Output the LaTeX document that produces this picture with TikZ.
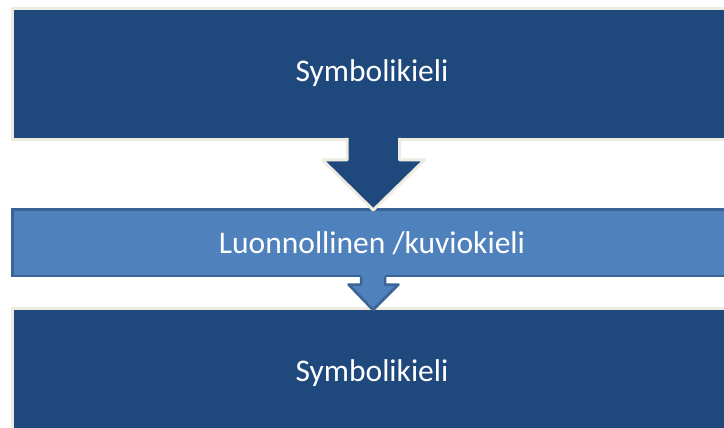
\documentclass[tikz,border=0pt]{standalone}
\usepackage{fontspec}
\setmainfont{Carlito}
\definecolor{darkblue}{HTML}{1F497D}
\definecolor{midblue}{HTML}{4F81BD}
\definecolor{midborder}{HTML}{3A6496}
\definecolor{beige}{HTML}{EEECE1}
\begin{document}
\begin{tikzpicture}[x=1pt,y=-1pt,
  darkbox/.style={rectangle,draw=beige,line width=3pt,fill=darkblue,inner sep=0pt,minimum width=760pt},
  midbox/.style={rectangle,draw=midborder,line width=2.5pt,fill=midblue,inner sep=0pt,minimum width=760pt},
  lbl/.style={text=white,font=\fontsize{31.5}{38}\selectfont,inner sep=0pt},
  darkarrow/.style={draw=beige,line width=3pt,line join=round},
  midarrow/.style={draw=midborder,line width=2.5pt,line join=round}]
\useasboundingbox (0,0) rectangle (724,428);
\clip (0,0) rectangle (724,428);
\fill[white] (0,0) rectangle (724,428);
% boxes
\node[darkbox,minimum height=131pt] (top) at (392.5,74) {};
\node[midbox,minimum height=66.5pt] (mid) at (392.25,242.5) {};
\node[darkbox,minimum height=130pt] (bot) at (392.5,373.5) {};
% labels
\node[lbl] (toplbl) at (372,73.5) {Symbolikieli};
\node[lbl] (midlbl) at (372,243) {Luonnollinen /kuviokieli};
\node[lbl] (botlbl) at (372,373.5) {Symbolikieli};
% arrow 1 (top -> middle)
\fill[darkblue] (347,136) -- (399.5,136) -- (399.5,160) -- (424.5,160) -- (373.25,210) -- (322.5,160) -- (347,160) -- cycle;
\draw[darkarrow] (347,138) -- (347,160) -- (322.5,160) -- (373.25,210) -- (424.5,160) -- (399.5,160) -- (399.5,138);
% arrow 2 (middle -> bottom)
\fill[midblue] (361,275) -- (385,275) -- (385,284.5) -- (398.5,284.5) -- (373,310) -- (348.5,284.5) -- (361,284.5) -- cycle;
\draw[midarrow] (361,277) -- (361,284.5) -- (348.5,284.5) -- (373,310) -- (398.5,284.5) -- (385,284.5) -- (385,277);
\end{tikzpicture}
\end{document}
